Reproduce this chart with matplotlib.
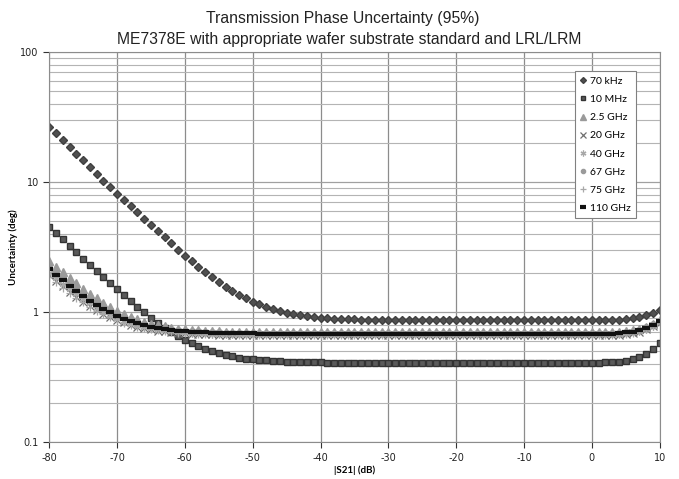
import numpy as np
import matplotlib
matplotlib.use("Agg")
import matplotlib.pyplot as plt
from matplotlib.ticker import FixedLocator, LogLocator, NullFormatter

plt.rcParams["axes.unicode_minus"] = False

# |S21| sweep, 1 dB steps
s21 = np.arange(-80, 11)

unc_70khz = [
    26.8, 23.8, 21.1, 18.7, 16.6, 14.8, 13.1, 11.6, 10.3, 9.16,
    8.13, 7.29, 6.53, 5.86, 5.25, 4.71, 4.22, 3.79, 3.40, 3.04,
    2.73, 2.47, 2.24, 2.04, 1.86, 1.71, 1.57, 1.46, 1.37, 1.28,
    1.21, 1.15, 1.10, 1.06, 1.02, 0.992, 0.968, 0.949, 0.933, 0.921,
    0.910, 0.902, 0.896, 0.891, 0.887, 0.883, 0.880, 0.878, 0.876, 0.875,
    0.874, 0.874, 0.874, 0.873, 0.873, 0.873, 0.873, 0.873, 0.873, 0.873,
    0.873, 0.873, 0.873, 0.873, 0.873, 0.873, 0.873, 0.873, 0.873, 0.873,
    0.873, 0.873, 0.873, 0.873, 0.873, 0.873, 0.873, 0.873, 0.873, 0.873,
    0.873, 0.873, 0.873, 0.874, 0.879,
    0.890, 0.904, 0.925, 0.953, 0.990, 1.04,
]
unc_10mhz = [
    4.57, 4.08, 3.64, 3.25, 2.90, 2.59, 2.32, 2.07, 1.86, 1.67,
    1.50, 1.35, 1.215, 1.10, 0.997, 0.908, 0.830, 0.763, 0.705, 0.655,
    0.613, 0.577, 0.547, 0.521, 0.500, 0.483, 0.469, 0.458, 0.448, 0.440,
    0.435, 0.430, 0.426, 0.422, 0.420, 0.418, 0.416, 0.415, 0.414, 0.413,
    0.412, 0.411, 0.410, 0.410, 0.410, 0.410, 0.410, 0.410, 0.410, 0.410,
    0.410, 0.410, 0.410, 0.410, 0.410, 0.410, 0.410, 0.410, 0.410, 0.410,
    0.410, 0.410, 0.410, 0.410, 0.410, 0.410, 0.410, 0.410, 0.410, 0.410,
    0.410, 0.410, 0.410, 0.410, 0.410, 0.410, 0.410, 0.410, 0.410, 0.410,
    0.410, 0.411, 0.412, 0.414, 0.417,
    0.424, 0.435, 0.450, 0.475, 0.520, 0.580,
]
unc_2g5 = [
    2.50, 2.25, 2.03, 1.84, 1.67, 1.52, 1.39, 1.28, 1.18, 1.10,
    1.03, 0.973, 0.924, 0.883, 0.848, 0.820, 0.797, 0.778, 0.762, 0.750,
    0.740, 0.732, 0.726, 0.720, 0.716, 0.713, 0.710, 0.708, 0.706, 0.705,
    0.704, 0.703, 0.702, 0.701, 0.701, 0.700, 0.700, 0.700, 0.700, 0.700,
    0.700, 0.700, 0.700, 0.700, 0.700, 0.700, 0.700, 0.700, 0.700, 0.700,
    0.700, 0.700, 0.700, 0.700, 0.700, 0.700, 0.700, 0.700, 0.700, 0.700,
    0.700, 0.700, 0.700, 0.700, 0.700, 0.700, 0.700, 0.700, 0.700, 0.700,
    0.700, 0.700, 0.700, 0.700, 0.700, 0.700, 0.700, 0.700, 0.700, 0.700,
    0.700, 0.700, 0.701, 0.702, 0.705,
    0.715, 0.725, 0.745, 0.775, 0.820, 0.870,
]
unc_20g = [
    1.92, 1.74, 1.58, 1.44, 1.32, 1.21, 1.12, 1.04, 0.978, 0.922,
    0.875, 0.836, 0.804, 0.777, 0.756, 0.738, 0.723, 0.712, 0.703, 0.695,
    0.689, 0.684, 0.680, 0.677, 0.675, 0.673, 0.671, 0.670, 0.669, 0.668,
    0.667, 0.666, 0.665, 0.665, 0.665, 0.665, 0.665, 0.665, 0.665, 0.665,
    0.665, 0.665, 0.665, 0.665, 0.665, 0.665, 0.665, 0.665, 0.665, 0.665,
    0.665, 0.665, 0.665, 0.665, 0.665, 0.665, 0.665, 0.665, 0.665, 0.665,
    0.665, 0.665, 0.665, 0.665, 0.665, 0.665, 0.665, 0.665, 0.665, 0.665,
    0.665, 0.665, 0.665, 0.665, 0.665, 0.665, 0.665, 0.665, 0.665, 0.665,
    0.665, 0.665, 0.666, 0.667, 0.670,
    0.680, 0.690, 0.710, 0.740, 0.780, 0.830,
]
unc_40g = [
    2.02, 1.82, 1.65, 1.50, 1.38, 1.26, 1.17, 1.08, 1.014, 0.954,
    0.904, 0.862, 0.827, 0.798, 0.774, 0.755, 0.739, 0.727, 0.717, 0.708,
    0.701, 0.696, 0.692, 0.688, 0.686, 0.683, 0.682, 0.680, 0.679, 0.678,
    0.678, 0.677, 0.676, 0.675, 0.675, 0.675, 0.675, 0.675, 0.675, 0.675,
    0.675, 0.675, 0.675, 0.675, 0.675, 0.675, 0.675, 0.675, 0.675, 0.675,
    0.675, 0.675, 0.675, 0.675, 0.675, 0.675, 0.675, 0.675, 0.675, 0.675,
    0.675, 0.675, 0.675, 0.675, 0.675, 0.675, 0.675, 0.675, 0.675, 0.675,
    0.675, 0.675, 0.675, 0.675, 0.675, 0.675, 0.675, 0.675, 0.675, 0.675,
    0.675, 0.675, 0.676, 0.677, 0.680,
    0.690, 0.700, 0.720, 0.750, 0.790, 0.840,
]
unc_67g = [
    2.31, 2.08, 1.88, 1.70, 1.55, 1.42, 1.30, 1.20, 1.115, 1.042,
    0.980, 0.927, 0.884, 0.848, 0.818, 0.793, 0.773, 0.757, 0.743, 0.733,
    0.724, 0.717, 0.712, 0.707, 0.704, 0.701, 0.699, 0.697, 0.696, 0.694,
    0.693, 0.692, 0.691, 0.690, 0.690, 0.690, 0.690, 0.690, 0.690, 0.690,
    0.690, 0.690, 0.690, 0.690, 0.690, 0.690, 0.690, 0.690, 0.690, 0.690,
    0.690, 0.690, 0.690, 0.690, 0.690, 0.690, 0.690, 0.690, 0.690, 0.690,
    0.690, 0.690, 0.690, 0.690, 0.690, 0.690, 0.690, 0.690, 0.690, 0.690,
    0.690, 0.690, 0.690, 0.690, 0.690, 0.690, 0.690, 0.690, 0.690, 0.690,
    0.690, 0.690, 0.690, 0.692, 0.695,
    0.705, 0.715, 0.735, 0.765, 0.810, 0.860,
]
unc_75g = [
    1.87, 1.70, 1.54, 1.41, 1.29, 1.19, 1.10, 1.03, 0.967, 0.914,
    0.869, 0.832, 0.802, 0.776, 0.756, 0.739, 0.725, 0.714, 0.705, 0.698,
    0.693, 0.688, 0.684, 0.681, 0.679, 0.677, 0.676, 0.675, 0.674, 0.673,
    0.672, 0.671, 0.670, 0.670, 0.670, 0.670, 0.670, 0.670, 0.670, 0.670,
    0.670, 0.670, 0.670, 0.670, 0.670, 0.670, 0.670, 0.670, 0.670, 0.670,
    0.670, 0.670, 0.670, 0.670, 0.670, 0.670, 0.670, 0.670, 0.670, 0.670,
    0.670, 0.670, 0.670, 0.670, 0.670, 0.670, 0.670, 0.670, 0.670, 0.670,
    0.670, 0.670, 0.670, 0.670, 0.670, 0.670, 0.670, 0.670, 0.670, 0.670,
    0.670, 0.670, 0.671, 0.672, 0.675,
    0.685, 0.695, 0.715, 0.745, 0.785, 0.835,
]
unc_110g = [
    2.16, 1.95, 1.77, 1.60, 1.46, 1.34, 1.23, 1.14, 1.065, 0.999,
    0.943, 0.896, 0.857, 0.825, 0.798, 0.776, 0.758, 0.744, 0.732, 0.722,
    0.715, 0.709, 0.704, 0.700, 0.697, 0.695, 0.693, 0.691, 0.690, 0.689,
    0.688, 0.687, 0.686, 0.685, 0.685, 0.685, 0.685, 0.685, 0.685, 0.685,
    0.685, 0.685, 0.685, 0.685, 0.685, 0.685, 0.685, 0.685, 0.685, 0.685,
    0.685, 0.685, 0.685, 0.685, 0.685, 0.685, 0.685, 0.685, 0.685, 0.685,
    0.685, 0.685, 0.685, 0.685, 0.685, 0.685, 0.685, 0.685, 0.685, 0.685,
    0.685, 0.685, 0.685, 0.685, 0.685, 0.685, 0.685, 0.685, 0.685, 0.685,
    0.685, 0.685, 0.686, 0.687, 0.690,
    0.700, 0.710, 0.730, 0.760, 0.800, 0.850,
]

series_labels = ["70 kHz", "10 MHz", "2.5 GHz", "20 GHz", "40 GHz", "67 GHz", "75 GHz", "110 GHz"]
x_ticks = [-80, -70, -60, -50, -40, -30, -20, -10, 0, 10]
y_ticks = [0.1, 1, 10, 100]
y_tick_labels = ["0.1", "1", "10", "100"]

fig = plt.figure(figsize=(6.79, 4.79), dpi=100)
ax = fig.add_axes([0.0725, 0.0766, 0.899, 0.8142])

styles = [
    dict(marker="D", ms=4.0, color="#505050", mec="#404040"),
    dict(marker="s", ms=4.4, color="#5a5a5a", mec="#333333"),
    dict(marker="^", ms=5.2, color="#9a9a9a", mec="#9a9a9a"),
    dict(marker="x", ms=5.2, color="#707070", mew=0.9),
    dict(marker=(6, 2, 0), ms=5.6, color="#a8a8a8", mew=0.9),
    dict(marker="o", ms=4.0, color="#9a9a9a", mec="#9a9a9a"),
    dict(marker="+", ms=5.6, color="#a8a8a8", mew=0.9),
    dict(marker="_", ms=5.2, color="#111111", mew=3),
]
all_series = [unc_70khz, unc_10mhz, unc_2g5, unc_20g, unc_40g, unc_67g, unc_75g, unc_110g]

for vals, lab, st in zip(all_series, series_labels, styles):
    ax.plot(s21, vals, linestyle="none", label=lab, **st)

ax.set_yscale("log")
ax.set_xlim(-80, 10)
ax.set_ylim(0.1, 100)
ax.xaxis.set_major_locator(FixedLocator(x_ticks))
ax.set_yticks(y_ticks)
ax.set_yticklabels(y_tick_labels)
ax.yaxis.set_minor_locator(LogLocator(base=10, subs=np.arange(2, 10)))
ax.yaxis.set_minor_formatter(NullFormatter())

ax.grid(True, axis="x", which="major", color="#8c8c8c", lw=0.9)
ax.grid(True, axis="y", which="major", color="#a0a0a0", lw=0.9)
ax.grid(True, axis="y", which="minor", color="#b4b4b4", lw=0.8)
ax.set_axisbelow(True)

for side in ["left", "bottom", "top", "right"]:
    ax.spines[side].set_color("#8c8c8c")

ax.tick_params(axis="both", which="major", labelsize=7, colors="#333333",
               length=4, width=0.8, direction="out")
ax.tick_params(axis="y", which="minor", length=0)
for lbl in ax.get_xticklabels() + ax.get_yticklabels():
    lbl.set_color("#222222")

ax.set_xlabel("|S21| (dB)", fontsize=7, fontweight="bold", family="Lato")
ax.set_ylabel("Uncertainty (deg)", fontsize=7, fontweight="bold", family="Lato")
ax.xaxis.set_label_coords(0.5, -0.059)
ax.yaxis.set_label_coords(-0.051, 0.5)

fig.text(0.505, 0.962, "Transmission Phase Uncertainty (95%)", ha="center", va="center",
         fontsize=11.3, family="Liberation Sans", color="#222222")
fig.text(0.515, 0.918, "ME7378E with appropriate wafer substrate standard and LRL/LRM",
         ha="center", va="center", fontsize=11.3, family="Liberation Sans", color="#222222")

leg = ax.legend(loc="upper right", bbox_to_anchor=(0.961, 0.951), borderaxespad=0,
                prop={"family": "Lato", "size": 7.5}, fancybox=False, framealpha=1,
                edgecolor="#808080", handlelength=0.6, handletextpad=0.35,
                labelspacing=0.85, borderpad=0.5, markerscale=0.75)
leg.get_frame().set_linewidth(0.8)

fig.savefig("out.png", dpi=100)
